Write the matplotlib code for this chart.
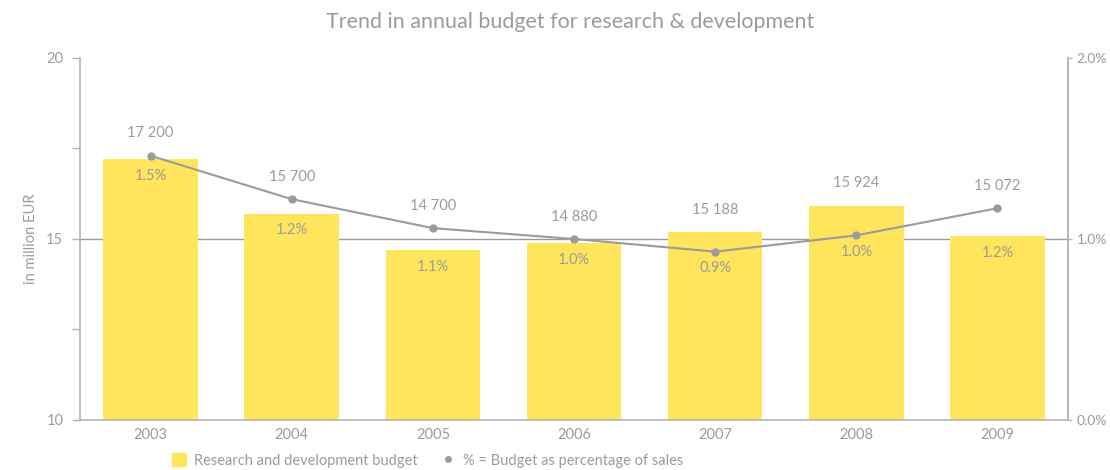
import matplotlib.pyplot as plt
from matplotlib.patches import Patch
from matplotlib.lines import Line2D
from matplotlib.ticker import FixedLocator, FuncFormatter

plt.rcParams['font.family'] = ['Lato', 'DejaVu Sans']

years = ['2003', '2004', '2005', '2006', '2007', '2008', '2009']
budget = [17200, 15700, 14700, 14880, 15188, 15924, 15072]
share_pct = [1.46, 1.22, 1.06, 1.00, 0.93, 1.02, 1.17]

yellow = '#FFE55C'
grey = '#9B9B9B'
axis_grey = '#B4B4B4'

fig = plt.figure(figsize=(11.1, 4.7), dpi=100)
ax = fig.add_axes([0.0721, 0.1064, 0.8901, 0.7702])
ax2 = ax.twinx()

x = list(range(len(years)))
budget_m = [b / 1000 for b in budget]

ax.axhline(15, color=grey, lw=1, zorder=0)
ax.bar(x, [b - 10 for b in budget_m], bottom=10, width=0.67, color=yellow, zorder=1)

ax.set_xlim(-0.5, len(years) - 0.5)
ax.set_ylim(10, 20)
ax2.set_ylim(0, 2)
ax2.plot(x, share_pct, color=grey, lw=1.5, marker='o', ms=5, zorder=3)

ax.set_zorder(ax2.get_zorder() - 1)
ax.patch.set_visible(False)

# budget labels above the higher of bar/point, percent labels below the lower
for i in x:
    pct_on_left = 10 + share_pct[i] * 5
    top = max(budget_m[i], pct_on_left)
    low = min(budget_m[i], pct_on_left)
    ax.annotate(f'{budget[i]:,}'.replace(',', ' '),
                (i, top), xytext=(0, 11), textcoords='offset points',
                ha='center', va='bottom', color=grey, fontsize=10.5)
    ax.annotate(f'{share_pct[i]:.1f}%', (i, low), xytext=(0, -7),
                textcoords='offset points', ha='center', va='top',
                color=grey, fontsize=10.5)

ax.set_xticks(x)
ax.set_xticklabels(years)
ax.yaxis.set_major_locator(FixedLocator([10, 15, 20]))
ax.yaxis.set_minor_locator(FixedLocator([12.5, 17.5]))
ax2.yaxis.set_major_locator(FixedLocator([0, 1, 2]))
ax2.yaxis.set_major_formatter(FuncFormatter(lambda v, p: f'{v:.1f}%'))

ax.tick_params(axis='y', which='both', direction='out', length=6, width=1,
               color=axis_grey, labelcolor=grey, labelsize=10.5, pad=6)
ax.tick_params(axis='x', length=0, labelcolor=grey, labelsize=10.5, pad=6)
ax2.tick_params(axis='y', direction='out', length=3, width=1,
                color=axis_grey, labelcolor=grey, labelsize=10, pad=3)

for a in (ax, ax2):
    a.spines['top'].set_visible(False)
    for s in ('left', 'right', 'bottom'):
        a.spines[s].set_color(axis_grey)
        a.spines[s].set_linewidth(1.2)
ax2.spines['left'].set_visible(False)
ax2.spines['bottom'].set_visible(False)

ax.set_ylabel('in million EUR', color=grey, fontsize=10.5, labelpad=6)
fig.suptitle('Trend in annual budget for research & development',
             color=grey, fontsize=15.5, x=0.514, y=0.975)

handles = [Patch(color=yellow),
           Line2D([], [], color=grey, marker='o', ms=4, lw=0)]
fig.legend(handles, ['Research and development budget',
                     '% = Budget as percentage of sales'],
           loc='center', bbox_to_anchor=(0.385, 0.02), ncol=2, frameon=False,
           fontsize=10.5, labelcolor=grey, handlelength=1.0, handleheight=1.0,
           handletextpad=0.5, columnspacing=1.6)

fig.savefig('out.png', dpi=100)
